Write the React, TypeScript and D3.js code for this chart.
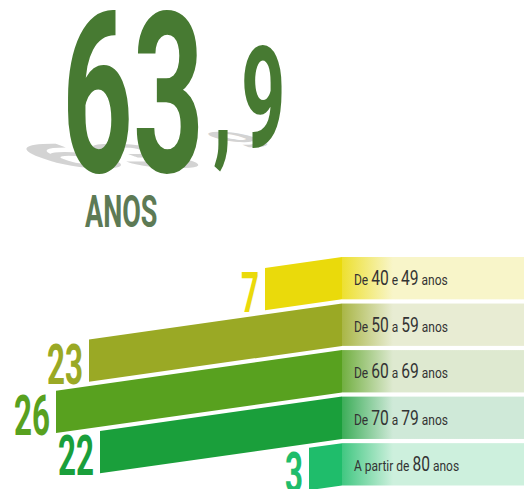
import React from 'react';
import * as d3 from 'd3';

// average age shown as headline
const average = ['63', ',', '9'];
const unit = 'ANOS';

// age groups, counts and colours
const categories = ['De 40 e 49 anos', 'De 50 a 59 anos', 'De 60 a 69 anos', 'De 70 a 79 anos', 'A partir de 80 anos'];
const values = [7, 23, 26, 22, 3];
const barColors = ['#eada0b', '#9aa925', '#58a11f', '#1a9f3b', '#1fbd6b'];
const paleColors = ['#f8f5c9', '#e8ecd3', '#dee9d0', '#cfe9d8', '#cdf0dd'];

const W = 524;
const H = 489;
const BAR_END = 342;
const SLOPE = 0.142;
const NUM_FONT = 'Roboto, "Liberation Sans", sans-serif';

function App() {
  const y = d3.scaleBand<string>().domain(categories).range([257, 485.5]).paddingInner(0.09).paddingOuter(0);
  const len = d3.scaleLinear().domain([0, 26]).range([0, 286]);
  const bw = y.bandwidth();

  return (
    <div style={{ position: 'absolute', left: 0, top: 0 }}>
      <svg width={W} height={H} style={{ display: 'block' }}>
        <defs>
          {categories.map((c, i) => (
            <linearGradient key={c} id={`pg${i}`} x1="0" x2="1" y1="0" y2="0">
              <stop offset="0%" stopColor={d3.interpolateRgb(barColors[i], '#ffffff')(0.15)} />
              <stop offset="28%" stopColor={paleColors[i]} />
              <stop offset="100%" stopColor={paleColors[i]} />
            </linearGradient>
          ))}
        </defs>

        {/* shadow of the headline */}
        <g fill="#d3d3d3" fontFamily={NUM_FONT} fontWeight="bold">
          <text transform="translate(62,168) matrix(0.6,0,0.4,0.15,0,0)" fontSize={225}>{average[0]}</text>
          <text transform="translate(236,147) matrix(0.6,0,0.4,0.15,0,0)" fontSize={141}>{average[2]}</text>
        </g>

        {/* headline */}
        <g fill="#477a32" fontFamily={NUM_FONT} fontWeight="bold">
          <text transform="translate(62,172) scale(0.55,1)" fontSize={225}>{average[0]}</text>
          <text transform="translate(213,147) scale(0.55,1)" fontSize={141}>{average[1]}</text>
          <text transform="translate(241,147) scale(0.55,1)" fontSize={141}>{average[2]}</text>
        </g>
        <text transform="translate(85,227) scale(0.6,1)" fontSize={45} fontFamily={NUM_FONT} fontWeight="bold" fill="#5d7a55">{unit}</text>

        {/* panels with age groups */}
        {categories.map((c, i) => {
          const top = y(c)!;
          return (
            <g key={c}>
              <rect x={BAR_END} y={top} width={W - BAR_END} height={bw} fill={`url(#pg${i})`} />
              <text transform={`translate(354,${top + bw / 2 + 7}) scale(0.8,1)`} fontFamily={NUM_FONT} fill="#333" style={{ whiteSpace: 'pre' }}>
                {c.split(/(\d+)/).map((t, j) => (
                  <tspan key={j} fontSize={/\d/.test(t) ? 19.5 : 15}>{t}</tspan>
                ))}
              </text>
            </g>
          );
        })}

        {/* slanted bars */}
        {categories.map((c, i) => {
          const top = y(c)!;
          const L = len(values[i]);
          const x0 = BAR_END - L;
          const drop = L * SLOPE;
          const path = d3.path();
          path.moveTo(BAR_END, top);
          path.lineTo(BAR_END, top + bw);
          path.lineTo(x0, top + bw + drop);
          path.lineTo(x0, top + drop);
          path.closePath();
          return (
            <g key={c}>
              <path d={path.toString()} fill={barColors[i]} />
              <text
                transform={`translate(${x0 - 6},${top + bw + drop + 2}) scale(0.56,1)`}
                textAnchor="end"
                fontSize={56}
                fontFamily={NUM_FONT}
                fontWeight="bold"
                fill={barColors[i]}
              >
                {values[i]}
              </text>
            </g>
          );
        })}
      </svg>
    </div>
  );
}

export default App;
